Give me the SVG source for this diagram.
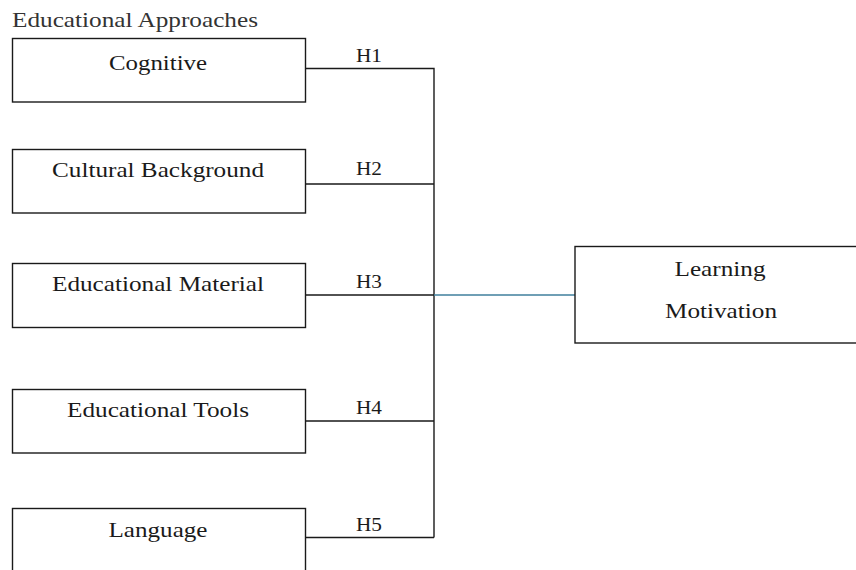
<svg xmlns="http://www.w3.org/2000/svg" width="856" height="570" viewBox="0 0 856 570">
<style>
.box{fill:#fff;stroke:#1a1a1a;stroke-width:1.4}
.lbl{font-family:"Liberation Serif","Times New Roman",serif;font-size:21px;fill:#1a1a1a;text-anchor:middle}
.h{font-family:"Liberation Serif","Times New Roman",serif;font-size:18px;fill:#1a1a1a;text-anchor:middle}
.ttl{font-family:"Liberation Serif","Times New Roman",serif;font-size:21px;fill:#333}
.conn{fill:none;stroke:#1a1a1a;stroke-width:1.4}
</style>
<rect width="856" height="570" fill="#fff"/>
<text class="ttl" x="12" y="26.5" textLength="246" lengthAdjust="spacingAndGlyphs">Educational Approaches</text>
<g id="connectors">
<path class="conn" d="M305.5 68.5H434V537.5M305.5 184H434M305.5 295H434M305.5 421H434M305.5 537.5H434"/>
<path d="M434 295H575" fill="none" stroke="#3f7f9c" stroke-width="1.4"/>
<text class="h" x="369" y="62" textLength="26" lengthAdjust="spacingAndGlyphs">H1</text>
<text class="h" x="369" y="174.5" textLength="26" lengthAdjust="spacingAndGlyphs">H2</text>
<text class="h" x="369" y="288" textLength="26" lengthAdjust="spacingAndGlyphs">H3</text>
<text class="h" x="369" y="413.5" textLength="26" lengthAdjust="spacingAndGlyphs">H4</text>
<text class="h" x="369" y="530.5" textLength="26" lengthAdjust="spacingAndGlyphs">H5</text>
</g>
<g id="cognitive"><rect class="box" x="12.5" y="38.5" width="293" height="63.5"/><text class="lbl" x="158" y="69.5" textLength="98" lengthAdjust="spacingAndGlyphs">Cognitive</text></g>
<g id="cultural"><rect class="box" x="12.5" y="149.5" width="293" height="63.5"/><text class="lbl" x="158" y="176.5" textLength="212" lengthAdjust="spacingAndGlyphs">Cultural Background</text></g>
<g id="material"><rect class="box" x="12.5" y="263.5" width="293" height="64"/><text class="lbl" x="158" y="290.5" textLength="212" lengthAdjust="spacingAndGlyphs">Educational Material</text></g>
<g id="tools"><rect class="box" x="12.5" y="389.5" width="293" height="63.5"/><text class="lbl" x="158" y="416.5" textLength="182" lengthAdjust="spacingAndGlyphs">Educational Tools</text></g>
<g id="language"><rect class="box" x="12.5" y="508.5" width="293" height="80"/><text class="lbl" x="158" y="536.5" textLength="99" lengthAdjust="spacingAndGlyphs">Language</text></g>
<g id="motivation"><rect class="box" x="575" y="246.5" width="292" height="96.5"/><text class="lbl" x="720" y="276" textLength="91" lengthAdjust="spacingAndGlyphs">Learning</text><text class="lbl" x="721" y="318" textLength="112" lengthAdjust="spacingAndGlyphs">Motivation</text></g>
</svg>
